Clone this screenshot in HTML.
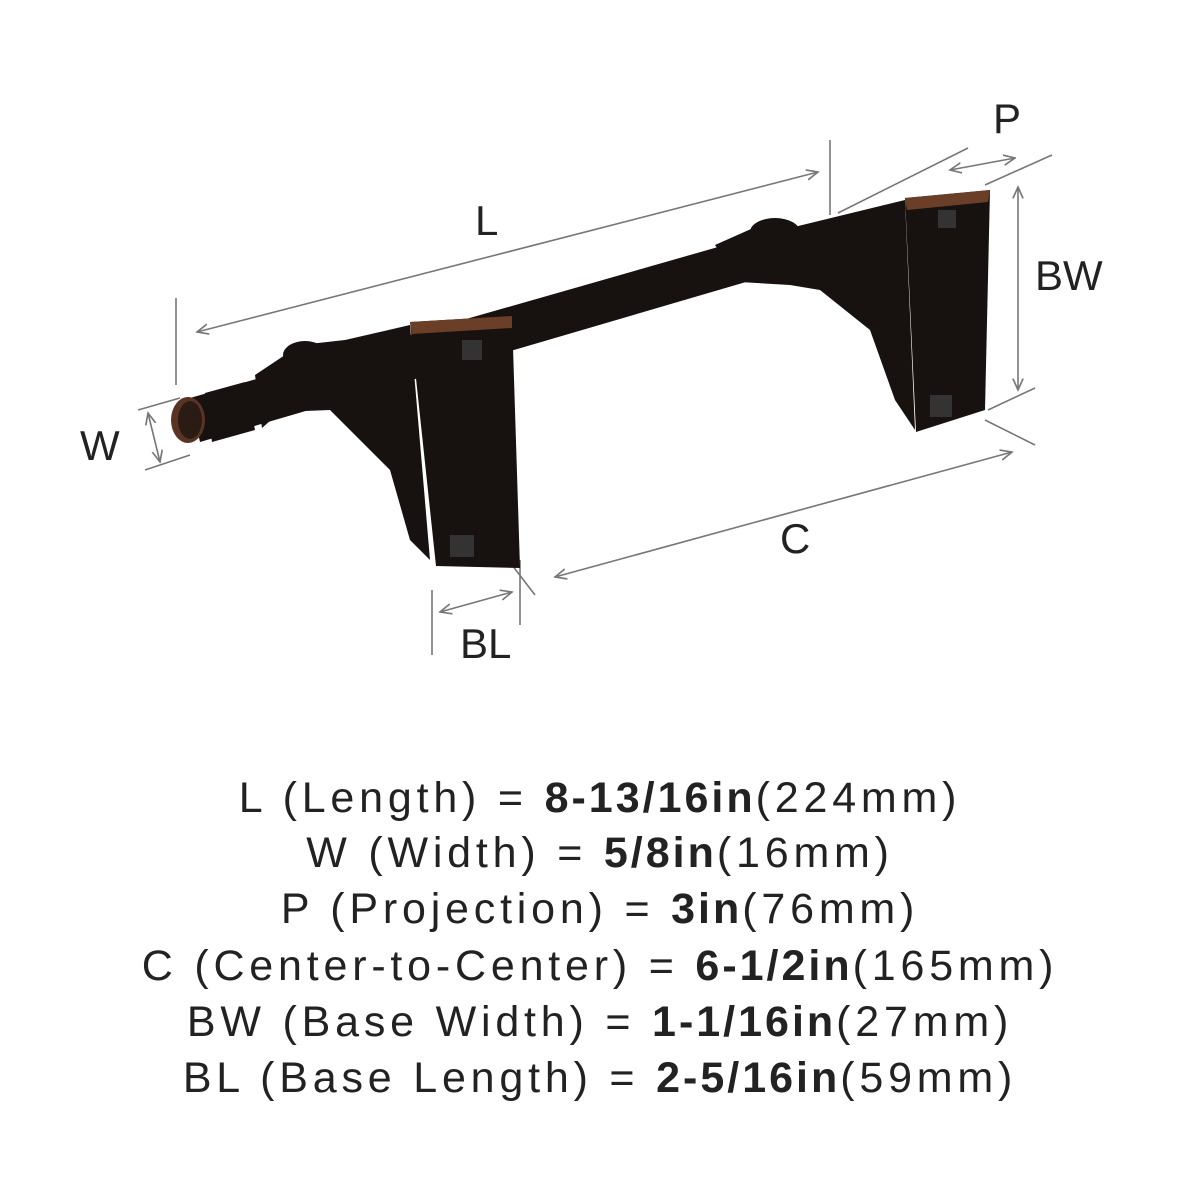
<!DOCTYPE html>
<html><head><meta charset="utf-8"><style>
html,body{margin:0;padding:0;background:#fff;}
body{width:1200px;height:1200px;position:relative;overflow:hidden;font-family:"Liberation Sans",sans-serif;}
.t{position:absolute;left:0;width:1200px;text-align:center;font-size:43px;color:#222;letter-spacing:4.8px;line-height:1;}
.t b{font-weight:bold;letter-spacing:3px;}
</style></head><body>
<svg width="1200" height="700" style="position:absolute;left:0;top:0" viewBox="0 0 1200 700">
<defs>
<marker id="a" viewBox="0 0 10 10" refX="9" refY="5" markerWidth="8" markerHeight="8" orient="auto-start-reverse"><path d="M0,1 L9,5 L0,9" fill="none" stroke="#777" stroke-width="1.3"/></marker>
</defs>
<g stroke="#777" stroke-width="1.6" fill="none">
<line x1="197" y1="332" x2="818" y2="172" marker-start="url(#a)" marker-end="url(#a)"/>
<line x1="176" y1="298" x2="176" y2="385"/>
<line x1="830" y1="140" x2="830" y2="215"/>
<line x1="838" y1="213" x2="968" y2="148"/>
<line x1="985" y1="185" x2="1052" y2="155"/>
<line x1="950" y1="170" x2="1015" y2="158" marker-start="url(#a)" marker-end="url(#a)"/>
<line x1="1018" y1="187" x2="1018" y2="390" marker-start="url(#a)" marker-end="url(#a)"/>
<line x1="988" y1="410" x2="1035" y2="388"/>
<line x1="138" y1="410" x2="180" y2="398"/>
<line x1="145" y1="470" x2="190" y2="455"/>
<line x1="148" y1="413" x2="160" y2="462" marker-start="url(#a)" marker-end="url(#a)"/>
<line x1="985" y1="420" x2="1035" y2="445"/>
<line x1="555" y1="577" x2="1012" y2="452" marker-start="url(#a)" marker-end="url(#a)"/>
<line x1="512" y1="565" x2="535" y2="595"/>
<line x1="432" y1="590" x2="432" y2="655"/>
<line x1="520" y1="560" x2="520" y2="625"/>
<line x1="440" y1="612" x2="512" y2="592" marker-start="url(#a)" marker-end="url(#a)"/>
</g>
<g fill="#17120f">
<polygon points="190,398 760,235 770,275 200,442"/>
<ellipse cx="188" cy="420" rx="17" ry="23" fill="#5a3422"/>
<ellipse cx="190" cy="420" rx="12" ry="19" fill="#2a1c15"/>
<polygon points="205,393 245,382 255,430 212,442"/>
<polygon points="255,375 300,345 345,340 410,325 430,560 410,540 390,470 330,410 280,412 262,428"/>
<ellipse cx="305" cy="355" rx="22" ry="14"/>
<polygon points="410,322 512,316 520,568 436,566"/>
<polygon points="410,322 512,316 512,328 412,334" fill="#6b3e28"/>
<polygon points="715,245 760,225 790,228 905,200 915,430 895,400 870,330 820,290 790,285 740,282"/>
<ellipse cx="775" cy="232" rx="25" ry="14"/>
<polygon points="905,198 990,190 985,410 916,432"/>
<polygon points="905,198 990,190 988,202 907,210" fill="#6b3e28"/>
</g>
<g fill="#333">
<rect x="462" y="340" width="20" height="20"/><rect x="450" y="535" width="24" height="22"/>
<rect x="938" y="210" width="18" height="18"/><rect x="930" y="395" width="22" height="22"/>
</g>
<g font-size="42" fill="#222" font-family="Liberation Sans,sans-serif">
<text x="475" y="235">L</text>
<text x="993" y="133">P</text>
<text x="1035" y="290">BW</text>
<text x="80" y="460">W</text>
<text x="780" y="553">C</text>
<text x="460" y="658">BL</text>
</g>
</svg>
<div class="t" style="top:777px">L (Length) = <b>8-13/16in</b>(224mm)</div>
<div class="t" style="top:832px">W (Width) = <b>5/8in</b>(16mm)</div>
<div class="t" style="top:888px">P (Projection) = <b>3in</b>(76mm)</div>
<div class="t" style="top:945px">C (Center-to-Center) = <b>6-1/2in</b>(165mm)</div>
<div class="t" style="top:1001px">BW (Base Width) = <b>1-1/16in</b>(27mm)</div>
<div class="t" style="top:1057px">BL (Base Length) = <b>2-5/16in</b>(59mm)</div>
</body></html>
